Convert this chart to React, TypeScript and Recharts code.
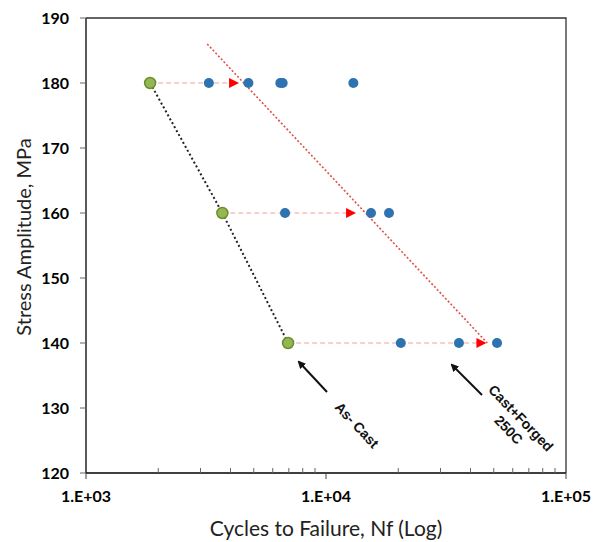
import React from 'react';
import { ScatterChart, Scatter, XAxis, YAxis } from 'recharts';

// stress levels tested (MPa)
const stressLevels = [180, 160, 140];

// as-cast lives, one per stress level
const asCastCycles = [1850, 3700, 6950];

// cast + forged 250C lives
const forged180 = [3250, 4750, 6450, 6600, 13000];
const forged160 = [6750, 15400, 18300];
const forged140 = [20500, 35800, 51600];

// mean of forged lives (red arrows)
const forgedMeanCycles = [4100, 12600, 44000];

// trend line for forged material
const fitCycles = [3200, 47000];
const fitStress = [186, 140];

const majorTicks = [1000, 10000, 100000];
const minorTicks = [2000, 3000, 4000, 5000, 6000, 7000, 8000, 9000, 20000, 30000, 40000, 50000, 60000, 70000, 80000, 90000];
const yTicks = [120, 130, 140, 150, 160, 170, 180, 190];

const asCast = asCastCycles.map((n, i) => ({ n, s: stressLevels[i] }));
const forged = [
  ...forged180.map((n) => ({ n, s: 180 })),
  ...forged160.map((n) => ({ n, s: 160 })),
  ...forged140.map((n) => ({ n, s: 140 })),
];
const forgedMean = forgedMeanCycles.map((n, i) => ({ n, s: stressLevels[i] }));
const fitLine = fitCycles.map((n, i) => ({ n, s: fitStress[i] }));
const connectors = stressLevels.map((s, i) => [
  { n: asCastCycles[i], s },
  { n: forgedMeanCycles[i], s },
]);

const font = 'Lato, "Open Sans", sans-serif';

const fmtExp = (v: number) => '1.E+' + String(Math.round(Math.log10(v))).padStart(2, '0');

const XTick = (props: any) => {
  const { x, y, payload } = props;
  const v = payload.value;
  if (majorTicks.includes(v)) {
    return (
      <g>
        <line x1={x} x2={x} y1={y} y2={y + 6} stroke="#444" />
        <text x={x} y={y + 29} textAnchor="middle" fontFamily={font} fontWeight={700} fontSize={16} fill="#000">
          {fmtExp(v)}
        </text>
      </g>
    );
  }
  return <line x1={x} x2={x} y1={y} y2={y - 5} stroke="#666" />;
};

const noShape = () => <g />;

const App = () => {
  return (
    <div style={{ position: 'absolute', left: 0, top: 0, width: 593, height: 542, background: '#fff' }}>
      <ScatterChart width={593} height={542} margin={{ top: 18, right: 27, bottom: 9, left: 20 }}>
        <XAxis
          type="number"
          dataKey="n"
          scale="log"
          domain={[1000, 100000]}
          allowDataOverflow
          ticks={[...majorTicks, ...minorTicks]}
          interval={0}
          tick={<XTick />}
          tickLine={false}
          tickSize={0}
          tickMargin={0}
          height={60}
          axisLine={{ stroke: '#000', strokeWidth: 1.3 }}
          label={{
            content: () => (
              <text x={326} y={536} textAnchor="middle" fontFamily={font} fontSize={21} fill="#222">
                Cycles to Failure, Nf (Log)
              </text>
            ),
          }}
        />
        <YAxis
          type="number"
          dataKey="s"
          domain={[120, 190]}
          ticks={yTicks}
          interval={0}
          width={66}
          tickSize={6}
          tickMargin={11}
          tickLine={{ stroke: '#666' }}
          axisLine={{ stroke: '#000', strokeWidth: 1.3 }}
          tick={{ fontFamily: font, fontWeight: 700, fontSize: 16, fill: '#000' }}
          label={{
            content: () => (
              <text x={23} y={237} transform="rotate(-90 23 237)" textAnchor="middle" dominantBaseline="central" fontFamily={font} fontSize={20} fill="#222">
                Stress Amplitude, MPa
              </text>
            ),
          }}
        />

        {connectors.map((seg, i) => (
          <Scatter
            key={i}
            data={seg}
            line={{ stroke: '#f2a0a0', strokeWidth: 1.2, strokeDasharray: '5 3' }}
            shape={noShape}
            isAnimationActive={false}
          />
        ))}
        <Scatter
          data={fitLine}
          line={{ stroke: '#e0504a', strokeWidth: 1.6, strokeDasharray: '2 2' }}
          shape={noShape}
          isAnimationActive={false}
        />
        <Scatter
          data={asCast}
          line={{ stroke: '#222', strokeWidth: 2, strokeDasharray: '2 2.5' }}
          shape={(p: any) => <circle cx={p.cx} cy={p.cy} r={5.5} fill="#93b753" stroke="#6d8d2c" strokeWidth={1.5} />}
          isAnimationActive={false}
        />
        <Scatter
          data={forged}
          shape={(p: any) => <circle cx={p.cx} cy={p.cy} r={5} fill="#2e72b0" />}
          isAnimationActive={false}
        />
        <Scatter
          data={forgedMean}
          shape={(p: any) => (
            <polygon points={`${p.cx - 4},${p.cy - 5} ${p.cx + 6},${p.cy} ${p.cx - 4},${p.cy + 5}`} fill="#ff0000" />
          )}
          isAnimationActive={false}
        />
      </ScatterChart>

      <svg width={593} height={542} style={{ position: 'absolute', left: 0, top: 0, pointerEvents: 'none' }}>
        <defs>
          <marker id="arr" markerWidth="8" markerHeight="8" refX="6" refY="4" orient="auto" markerUnits="userSpaceOnUse">
            <path d="M0,0 L8,4 L0,8 z" fill="#111" />
          </marker>
        </defs>
        {/* plot frame */}
        <polyline points="86,18 566,18 566,473" fill="none" stroke="#333" strokeWidth={1.3} />
        <line x1={327} y1={392} x2={299} y2={362} stroke="#111" strokeWidth={2} markerEnd="url(#arr)" />
        <line x1={482} y1={395} x2={452} y2={365} stroke="#111" strokeWidth={2} markerEnd="url(#arr)" />
        <text x={357} y={425} transform="rotate(47 357 425)" textAnchor="middle" dominantBaseline="central" fontFamily="'Liberation Sans', Arial, sans-serif" fontWeight={700} fontSize={14} fill="#111">
          As- Cast
        </text>
        <text transform="rotate(46 521 418)" fontFamily="'Liberation Sans', Arial, sans-serif" fontWeight={700} fontSize={14} fill="#111" textAnchor="middle">
          <tspan x={521} y={423}>Cast+Forged</tspan>
          <tspan x={521} y={440}>250C</tspan>
        </text>
      </svg>
    </div>
  );
};

export default App;
